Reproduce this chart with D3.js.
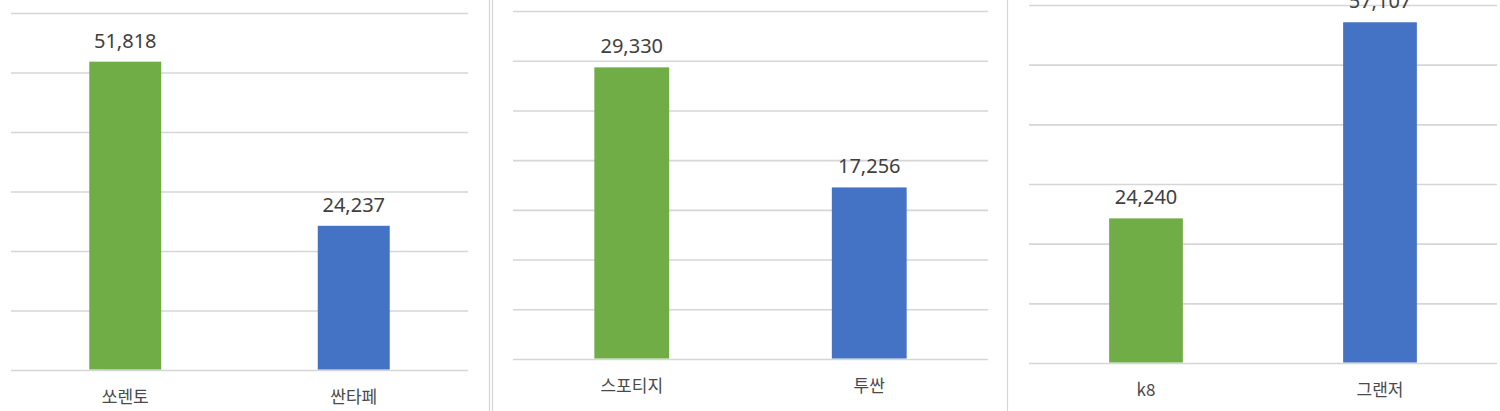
<!DOCTYPE html>
<html>
<head>
<meta charset="utf-8">
<script src="https://cdn.jsdelivr.net/npm/d3@7"></script>
<style>
  html, body { margin: 0; padding: 0; background: #ffffff; }
  svg { display: block; }
</style>
</head>
<body>
<svg id="chart" width="1500" height="411"></svg>
<script>
// ---- Data ----
const panel1Categories = ["쏘렌토", "싼타페"];
const panel1Values = [51818, 24237];
const panel1Ticks = [0, 10000, 20000, 30000, 40000, 50000, 60000];

const panel2Categories = ["스포티지", "투싼"];
const panel2Values = [29330, 17256];
const panel2Ticks = [0, 5000, 10000, 15000, 20000, 25000, 30000, 35000];

const panel3Categories = ["k8", "그랜저"];
const panel3Values = [24240, 57107];
const panel3Ticks = [0, 10000, 20000, 30000, 40000, 50000, 60000];

const barColors = ["#70AD47", "#4472C4"];

// ---- Layout (positions only) ----
const panels = [
  { cats: panel1Categories, vals: panel1Values, ticks: panel1Ticks, x0: 11,   x1: 468,  yTop: 13, yBase: 370 },
  { cats: panel2Categories, vals: panel2Values, ticks: panel2Ticks, x0: 513,  x1: 988,  yTop: 11, yBase: 359 },
  { cats: panel3Categories, vals: panel3Values, ticks: panel3Ticks, x0: 1029, x1: 1497, yTop: 5,  yBase: 363 }
];

const svg = d3.select("#chart");
const fmt = d3.format(",");

// panel separators
[489, 492, 1007].forEach(xv => {
  svg.append("line")
    .attr("x1", xv + 0.5).attr("x2", xv + 0.5)
    .attr("y1", 0).attr("y2", 411)
    .attr("stroke", "#d6d6d6").attr("stroke-width", 1.2);
});

panels.forEach(p => {
  const W = p.x1 - p.x0;
  const x = d3.scaleBand().domain(p.cats).range([p.x0, p.x1])
    .paddingInner(0.685).paddingOuter(0.685 / 2);
  const maxTick = p.ticks[p.ticks.length - 1];
  const y = d3.scaleLinear().domain([0, maxTick]).range([p.yBase, p.yTop]);

  const g = svg.append("g");

  // gridlines via axis
  const grid = g.append("g")
    .attr("transform", `translate(${p.x0},0)`)
    .call(d3.axisLeft(y).tickValues(p.ticks).tickSize(-W).tickFormat(""));
  grid.select(".domain").remove();
  grid.selectAll(".tick line").attr("stroke", "#d6d6d6").attr("stroke-width", 1.6);

  const data = p.cats.map((c, i) => ({ c, v: p.vals[i], i }));

  // bars
  g.selectAll("rect.bar").data(data).enter().append("rect")
    .attr("class", "bar")
    .attr("x", d => x(d.c))
    .attr("width", x.bandwidth())
    .attr("y", d => y(d.v))
    .attr("height", d => y(0) - y(d.v) - 0.5)
    .attr("fill", d => barColors[d.i]);

  // value labels
  g.selectAll("text.val").data(data).enter().append("text")
    .attr("class", "val")
    .attr("x", d => x(d.c) + x.bandwidth() / 2)
    .attr("y", d => y(d.v) - 14)
    .attr("text-anchor", "middle")
    .attr("font-family", "'Noto Sans', 'Open Sans', sans-serif")
    .attr("font-size", 20)
    .attr("fill", "#404040")
    .text(d => fmt(d.v));

  // category labels
  g.selectAll("text.cat").data(data).enter().append("text")
    .attr("class", "cat")
    .attr("x", d => x(d.c) + x.bandwidth() / 2)
    .attr("y", p.yBase + 33)
    .attr("text-anchor", "middle")
    .attr("font-family", "'Noto Sans CJK KR', 'Noto Sans', sans-serif")
    .attr("font-size", 17)
    .attr("fill", "#4a4a4a")
    .text(d => d.c);
});
</script>
</body>
</html>
